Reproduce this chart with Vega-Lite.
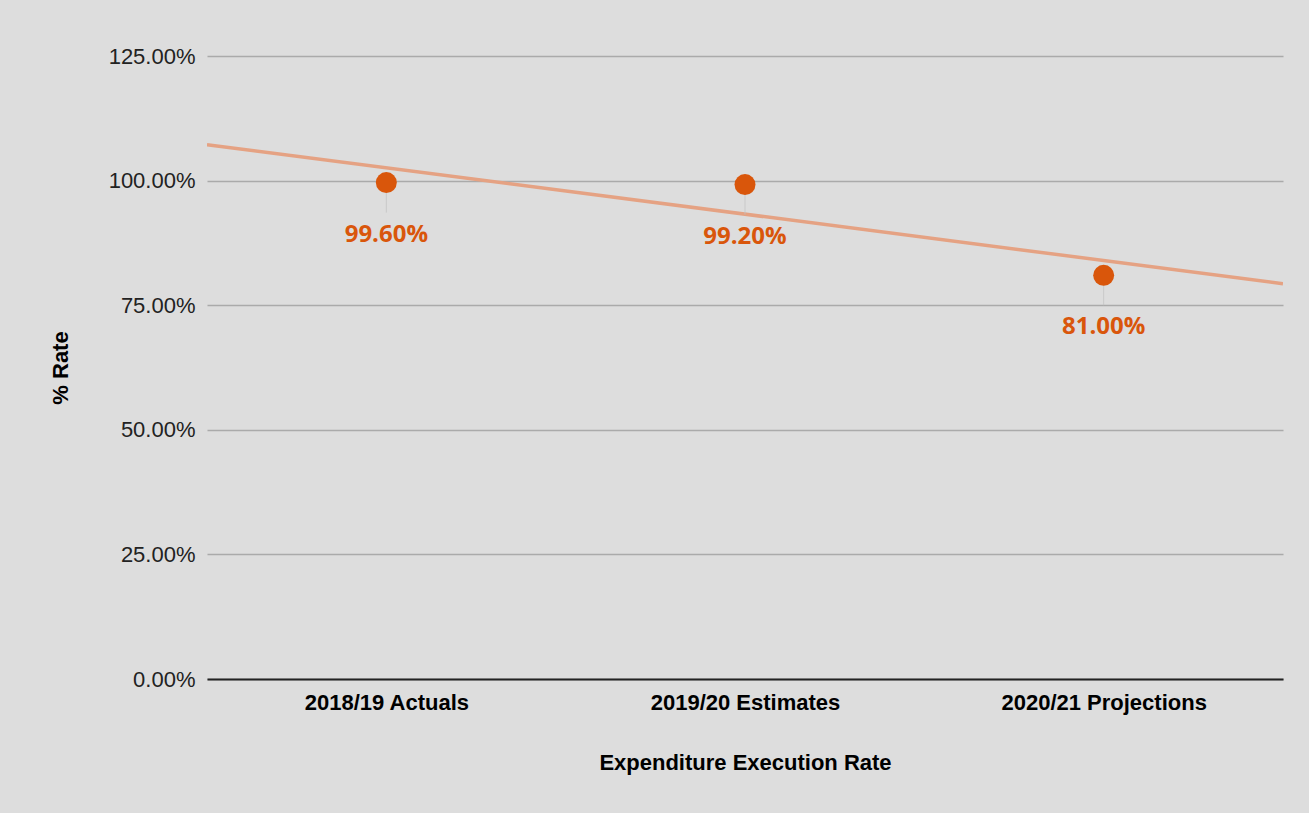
{
  "$schema": "https://vega.github.io/schema/vega-lite/v6.json",
  "autosize": "none",
  "width": 1076,
  "height": 623,
  "padding": {"left": 207, "top": 56, "right": 26, "bottom": 134},
  "background": "#dddddd",
  "config": {
    "view": {"stroke": null},
    "axis": {"labelFont": "Liberation Sans", "titleFont": "Liberation Sans"}
  },
  "data": {
    "values": [
      {"idx": 0, "period": "2018/19 Actuals", "rate": 0.996},
      {"idx": 1, "period": "2019/20 Estimates", "rate": 0.992},
      {"idx": 2, "period": "2020/21 Projections", "rate": 0.81}
    ]
  },
  "encoding": {
    "x": {
      "field": "idx",
      "type": "quantitative",
      "scale": {"domain": [-0.5, 2.5], "nice": false, "zero": false},
      "axis": {
        "values": [0, 1, 2],
        "labelExpr": "datum.value == 0 ? '2018/19 Actuals' : datum.value == 1 ? '2019/20 Estimates' : '2020/21 Projections'",
        "labelLimit": 0,
        "title": "Expenditure Execution Rate",
        "titleFontSize": 22,
        "titleFontWeight": "bold",
        "titleColor": "#000000",
        "titlePadding": 39,
        "labelFontSize": 22,
        "labelFontWeight": "bold",
        "labelColor": "#000000",
        "labelPadding": 13,
        "grid": false,
        "ticks": false,
        "domainColor": "#222222",
        "domainWidth": 2
      }
    },
    "y": {
      "field": "rate",
      "type": "quantitative",
      "scale": {"domain": [0, 1.25], "nice": false},
      "axis": {
        "values": [0, 0.25, 0.5, 0.75, 1, 1.25],
        "format": ".2%",
        "title": "% Rate",
        "titleFontSize": 22,
        "titleFontWeight": "bold",
        "titleColor": "#000000",
        "titlePadding": 36,
        "labelFontSize": 22,
        "labelColor": "#222222",
        "labelPadding": 12,
        "ticks": false,
        "domain": false,
        "gridColor": "#aaaaaa",
        "gridWidth": 1.5
      }
    }
  },
  "layer": [
    {
      "transform": [{"regression": "rate", "on": "idx", "extent": [-0.5, 2.5]}],
      "mark": {"type": "line", "color": "#e5a283", "strokeWidth": 3.5, "clip": true}
    },
    {
      "mark": {"type": "point", "shape": "M0,0L0,2", "size": 900, "filled": false, "stroke": "#c2c2c2", "strokeWidth": 1}
    },
    {
      "mark": {"type": "point", "filled": true, "size": 440, "color": "#d9560b", "opacity": 1}
    },
    {
      "mark": {"type": "text", "dy": 52, "font": "Open Sans", "fontSize": 24, "fontWeight": "bold", "color": "#d9560b"},
      "encoding": {"text": {"field": "rate", "type": "quantitative", "format": ".2%"}}
    }
  ]
}
